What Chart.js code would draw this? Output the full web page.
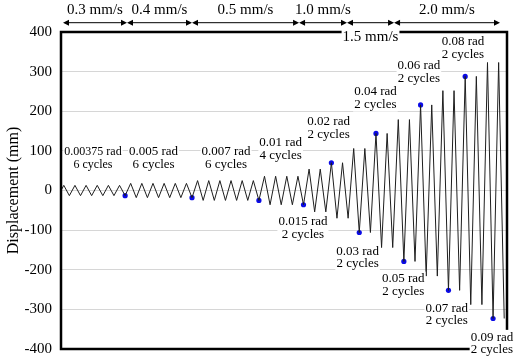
<!DOCTYPE html>
<html><head><meta charset="utf-8">
<script src="https://cdn.jsdelivr.net/npm/chart.js@4.4.1/dist/chart.umd.min.js"></script>
<style>html,body{margin:0;padding:0;background:#fff}#wrap{width:516px;height:362px}</style>
</head><body><div id="wrap"><canvas id="c" width="516" height="362"></canvas></div>
<script>
// ---------- data ----------
const yTicks = [-400, -300, -200, -100, 0, 100, 200, 300, 400];
// successive peak displacements (mm): start at 0, then +A/-A per cycle
const displacement = [
  0,
  13,-13, 13,-13, 13,-13, 13,-13, 13,-13, 13,-13,        // 0.00375 rad x6
  18,-18, 18,-18, 18,-18, 18,-18, 18,-18, 18,-18,        // 0.005 rad x6
  25,-25, 25,-25, 25,-25, 25,-25, 25,-25, 25,-25,        // 0.007 rad x6
  36,-36, 36,-36, 36,-36, 36,-36,                        // 0.01 rad x4
  54,-54, 54,-54,                                        // 0.015 rad x2
  70,-70, 70,-70,                                        // 0.02 rad x2
  106,-106, 106,-106,                                    // 0.03 rad x2
  144,-144, 144,-144,                                    // 0.04 rad x2
  179,-179, 179,-179,                                    // 0.05 rad x2
  216,-216, 216,-216,                                    // 0.06 rad x2
  252,-252, 252,-252,                                    // 0.07 rad x2
  288,-288, 288,-288,                                    // 0.08 rad x2
  323,-323, 323,-323                                     // 0.09 rad x2
];
// peaks marked with a blue dot (index into displacement)
const dotIndex = [12, 24, 36, 44, 49, 54, 57, 62, 65, 70, 73, 78];
const driftLabels = ['0.00375 rad','0.005 rad','0.007 rad','0.01 rad','0.015 rad','0.02 rad','0.03 rad','0.04 rad','0.05 rad','0.06 rad','0.07 rad','0.08 rad','0.09 rad'];
const cycleLabels = ['6 cycles','6 cycles','6 cycles','4 cycles','2 cycles','2 cycles','2 cycles','2 cycles','2 cycles','2 cycles','2 cycles','2 cycles','2 cycles'];
const speedLabels = ['0.3 mm/s','0.4 mm/s','0.5 mm/s','1.0 mm/s','1.5 mm/s','2.0 mm/s'];
// speed-range boundaries on the cycle axis
const speedBounds = [0.18, 5.92, 11.75, 21.35, 25.65, 29.87, 39.37];

// ---------- layout (annotation anchors in axis units: [cycle, mm]) ----------
const labelAnchor = [[2.87,97],[8.3,97],[14.8,97],[19.7,120],[21.7,-79],[24.0,173],[26.6,-153],[28.2,249],[30.7,-223],[32.1,314],[34.6,-297],[36.05,375],[38.65,-370]];
const labelFont = [12,13,13,13,13,13,13,13,13,13,13,13,13];
const speedLow = [false,false,false,false,true,false];

// cycle position of each peak (quarter cycle to first peak, then half-cycle steps)
const cyclePos = displacement.map((_, i) => i === 0 ? 0 : 0.25 + 0.5 * (i - 1));
const wavePts = displacement.map((v, i) => ({x: cyclePos[i], y: v}));
const dotPts = dotIndex.map(i => ({x: cyclePos[i], y: displacement[i]}));

const SERIF = '"Liberation Serif", "Times New Roman", serif';

const overlay = {
  id: 'overlay',
  afterDraw(chart) {
    const {ctx, chartArea: ca, scales: {x, y}} = chart;
    ctx.save();
    // frame
    ctx.strokeStyle = '#000';
    ctx.lineWidth = 2.5;
    ctx.strokeRect(ca.left, ca.top, ca.right - ca.left, ca.bottom - ca.top);

    // drift labels with white background
    ctx.textAlign = 'center';
    ctx.textBaseline = 'middle';
    const lh = 12.5;
    driftLabels.forEach((t, i) => {
      ctx.font = labelFont[i] + 'px ' + SERIF;
      const cx = x.getPixelForValue(labelAnchor[i][0]);
      const cy = y.getPixelForValue(labelAnchor[i][1]);
      const w = Math.max(ctx.measureText(t).width, ctx.measureText(cycleLabels[i]).width);
      ctx.fillStyle = '#fff';
      ctx.fillRect(cx - w / 2 - 1, cy - lh / 2 - 1, w + 2, lh * 2 + 2);
      ctx.fillStyle = '#000';
      ctx.fillText(t, cx, cy);
      ctx.fillText(cycleLabels[i], cx, cy + lh);
    });

    // speed arrows
    const ay = 22.7;
    ctx.strokeStyle = '#000';
    ctx.fillStyle = '#000';
    ctx.lineWidth = 1;
    for (let i = 0; i < speedLabels.length; i++) {
      const x0 = x.getPixelForValue(speedBounds[i]);
      const x1 = x.getPixelForValue(speedBounds[i + 1]);
      ctx.beginPath(); ctx.moveTo(x0 + 2, ay); ctx.lineTo(x1 - 2, ay); ctx.stroke();
      ctx.beginPath(); ctx.moveTo(x0, ay); ctx.lineTo(x0 + 6, ay - 3); ctx.lineTo(x0 + 6, ay + 3); ctx.closePath(); ctx.fill();
      ctx.beginPath(); ctx.moveTo(x1, ay); ctx.lineTo(x1 - 6, ay - 3); ctx.lineTo(x1 - 6, ay + 3); ctx.closePath(); ctx.fill();
      ctx.font = '15px ' + SERIF;
      const tx = (x0 + x1) / 2;
      const ty = speedLow[i] ? 37.5 : 10.5;
      const w = ctx.measureText(speedLabels[i]).width;
      if (speedLow[i]) { ctx.fillStyle = '#fff'; ctx.fillRect(tx - w / 2 - 1, ty - 7.5, w + 2, 15); }
      ctx.fillStyle = '#000';
      ctx.fillText(speedLabels[i], tx, ty);
    }
    ctx.restore();
  }
};

new Chart(document.getElementById('c'), {
  type: 'line',
  data: {
    datasets: [
      {data: wavePts, borderColor: '#1e1e1e', borderWidth: 1, pointRadius: 0, tension: 0, fill: false},
      {type: 'scatter', data: dotPts, pointRadius: 2.6, backgroundColor: '#0a0ae6', borderWidth: 0}
    ]
  },
  options: {
    responsive: false,
    animation: false,
    devicePixelRatio: 1,
    layout: {padding: {left: 0, right: 9, top: 32, bottom: 13}},
    plugins: {legend: {display: false}, tooltip: {enabled: false}},
    scales: {
      x: {type: 'linear', min: 0, max: 40, display: false},
      y: {
        min: -400, max: 400,
        afterBuildTicks: s => { s.ticks = yTicks.map(v => ({value: v})); },
        afterFit: s => { s.width = 61; s.paddingTop = 0; s.paddingBottom = 0; },
        ticks: {color: '#000', font: {family: SERIF, size: 15}, padding: 9},
        grid: {color: '#d6d6d6', lineWidth: 1, drawTicks: false},
        border: {display: false},
        title: {display: true, text: 'Displacement (mm)', color: '#000', font: {family: SERIF, size: 16}, padding: {top: 4, bottom: 0}}
      }
    }
  },
  plugins: [overlay]
});
</script></body></html>
